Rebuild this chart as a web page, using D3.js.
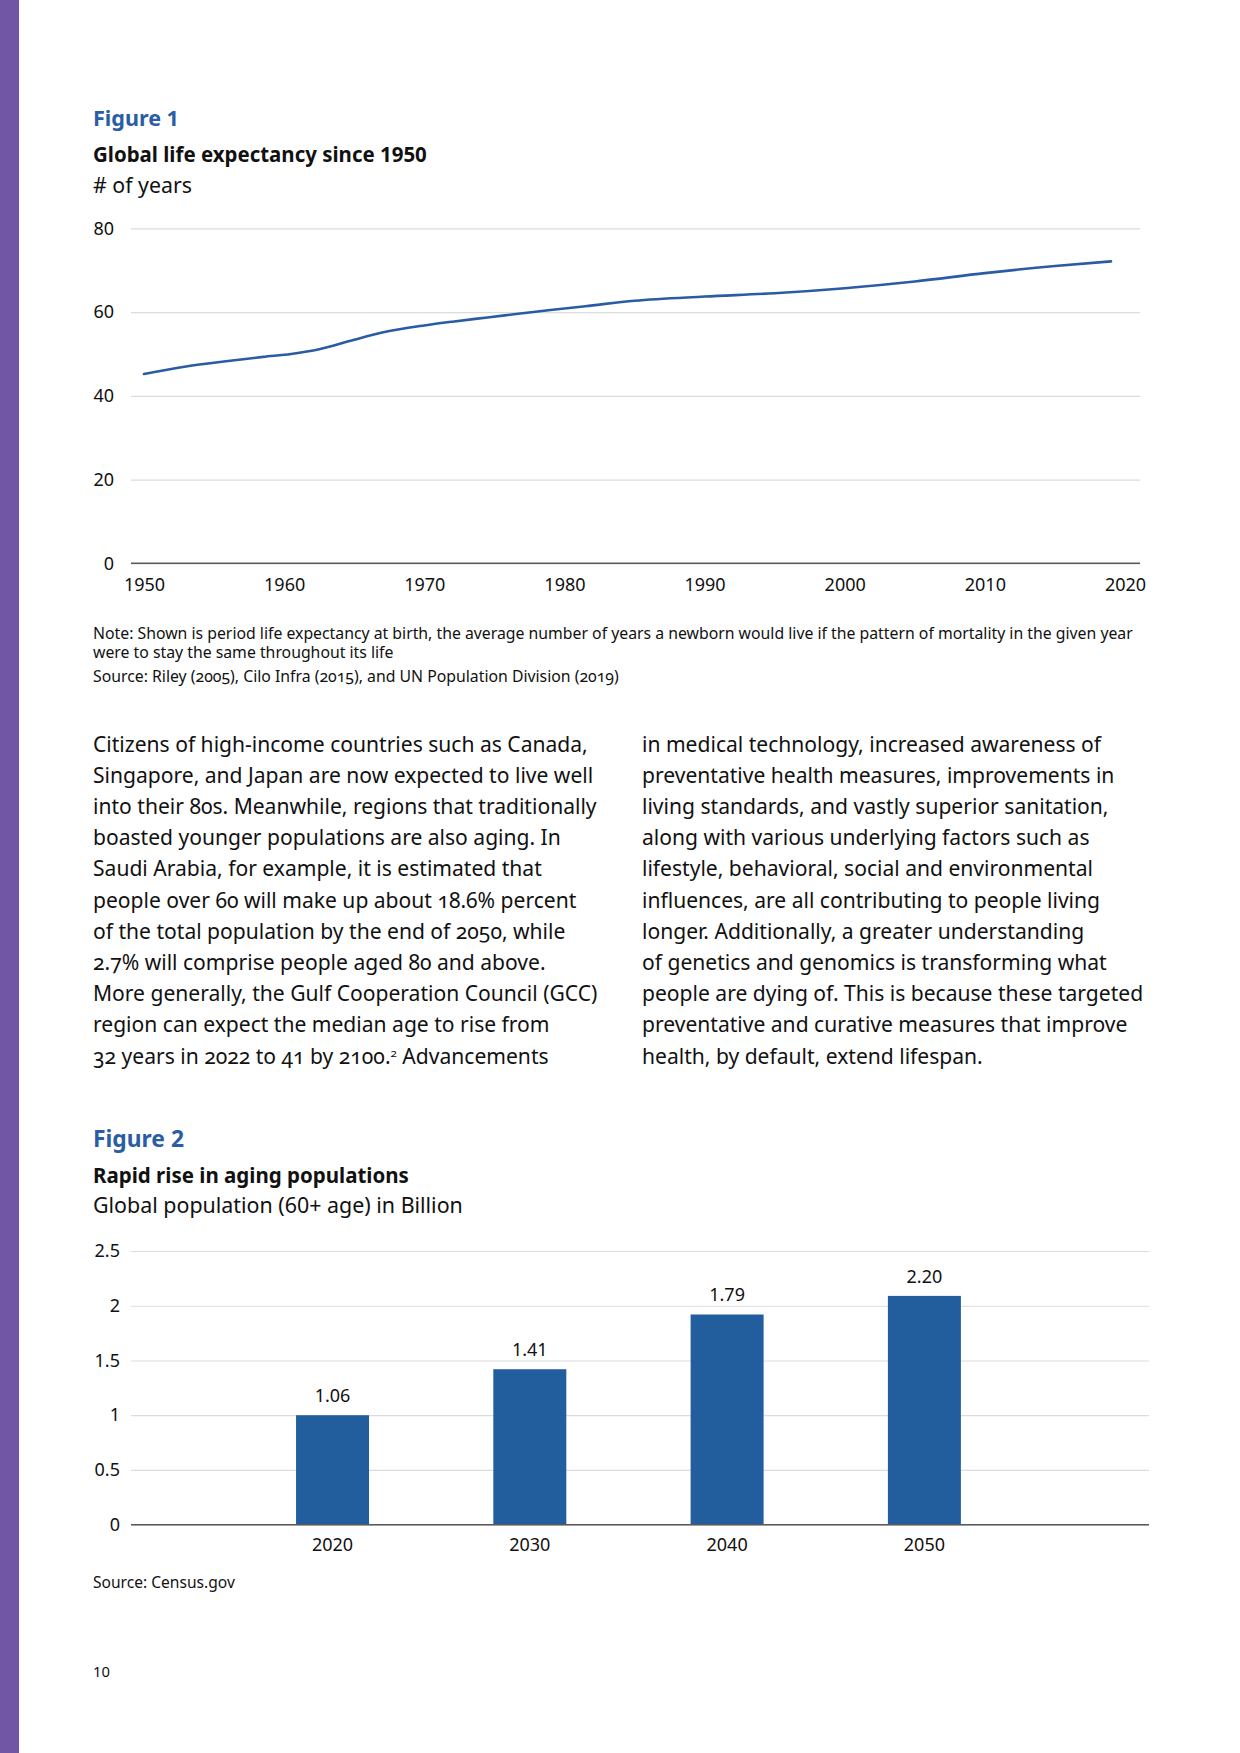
<!DOCTYPE html>
<html>
<head>
<meta charset="utf-8">
<script src="https://cdn.jsdelivr.net/npm/d3@7"></script>
<style>
  html, body { margin: 0; padding: 0; background: #fff; }
  svg { display: block; }
  text { font-family: "Noto Sans", "Open Sans", sans-serif; }
  .body { font-variant-numeric: oldstyle-nums; }
</style>
</head>
<body>
<svg id="page" width="1240" height="1753"></svg>
<script>
// ---------- Figure 1 data ----------
const lifeYears  = [1950, 1953, 1956, 1958.5, 1960.5, 1962.5, 1965, 1967, 1970, 1972, 1974.5, 1977, 1979, 1981.5, 1985, 1990, 1995, 2000, 2005, 2010, 2015, 2019];
const lifeValues = [45.2, 47.0, 48.3, 49.3, 50.0, 51.1, 53.4, 55.1, 56.8, 57.7, 58.7, 59.7, 60.5, 61.4, 62.7, 63.7, 64.5, 65.7, 67.3, 69.3, 71.0, 72.1];
const fig1YTicks = [0, 20, 40, 60, 80];
const fig1XTicks = [1950, 1960, 1970, 1980, 1990, 2000, 2010, 2020];

// ---------- Figure 2 data ----------
const popCategories = ["2020", "2030", "2040", "2050"];
const popBarValues  = [1.00, 1.42, 1.92, 2.09];
const popLabels     = ["1.06", "1.41", "1.79", "2.20"];
const fig2YTicks    = [0, 0.5, 1, 1.5, 2, 2.5];
const fig2YTickLabels = ["0", "0.5", "1", "1.5", "2", "2.5"];

// ---------- Text ----------
const bodyLeft = [
  "Citizens of high-income countries such as Canada,",
  "Singapore, and Japan are now expected to live well",
  "into their 80s. Meanwhile, regions that traditionally",
  "boasted younger populations are also aging. In",
  "Saudi Arabia, for example, it is estimated that",
  "people over 60 will make up about 18.6% percent",
  "of the total population by the end of 2050, while",
  "2.7% will comprise people aged 80 and above.",
  "More generally, the Gulf Cooperation Council (GCC)",
  "region can expect the median age to rise from",
  "32 years in 2022 to 41 by 2100.|2| Advancements"
];
const bodyRight = [
  "in medical technology, increased awareness of",
  "preventative health measures, improvements in",
  "living standards, and vastly superior sanitation,",
  "along with various underlying factors such as",
  "lifestyle, behavioral, social and environmental",
  "influences, are all contributing to people living",
  "longer. Additionally, a greater understanding",
  "of genetics and genomics is transforming what",
  "people are dying of. This is because these targeted",
  "preventative and curative measures that improve",
  "health, by default, extend lifespan."
];
const noteLines = [
  "Note: Shown is period life expectancy at birth, the average number of years a newborn would live if the pattern of mortality in the given year",
  "were to stay the same throughout its life"
];
const source1 = "Source: Riley (2005), Cilo Infra (2015), and UN Population Division (2019)";
const source2 = "Source: Census.gov";

const BLUE = "#2a5da6";
const BAR = "#225d9e";
const GRID = "#dcdcdc";
const AXIS = "#5a5a5a";
const TXT = "#111";

const svg = d3.select("#page");

svg.append("rect").attr("x", 0).attr("y", 0).attr("width", 19).attr("height", 1753).attr("fill", "#7256a6");

function fitWidth(sel, target) {
  const w = sel.node().getComputedTextLength();
  const fs = parseFloat(sel.attr("font-size"));
  const nfs = fs * target / w;
  sel.attr("font-size", nfs);
  return nfs;
}
function addText(x, y, str, size, weight, color, target) {
  const t = svg.append("text").attr("x", x).attr("y", y).attr("font-size", size)
    .attr("font-weight", weight).attr("fill", color).text(str);
  if (target) fitWidth(t, target);
  return t;
}

// ---------- Figure 1 headings ----------
addText(93, 126, "Figure 1", 22, 700, BLUE, 86);
addText(93, 162, "Global life expectancy since 1950", 20, 700, TXT, 334);
addText(93, 193, "# of years", 20, 400, TXT, 99);

// ---------- Figure 1 chart ----------
const x1 = d3.scaleLinear().domain([1950, 2020]).range([144, 1125]);
const y1 = d3.scaleLinear().domain([0, 80]).range([563.3, 228.3]);
const gx0 = 131, gx1 = 1140;

const g1 = svg.append("g");
const yAxis1 = d3.axisLeft(y1).tickValues(fig1YTicks).tickSize(-(gx1 - gx0)).tickPadding(17).tickFormat(d3.format("d"));
g1.append("g").attr("transform", `translate(${gx0},0)`).call(yAxis1)
  .call(g => g.select(".domain").remove())
  .call(g => g.selectAll(".tick line").attr("stroke", GRID).attr("stroke-width", 1.2))
  .call(g => g.selectAll(".tick text").attr("font-size", 18).attr("fill", TXT).attr("font-family", "Noto Sans"));
g1.append("line").attr("x1", gx0).attr("x2", gx1).attr("y1", y1(0)).attr("y2", y1(0)).attr("stroke", AXIS).attr("stroke-width", 1.5);

const xAxis1 = d3.axisBottom(x1).tickValues(fig1XTicks).tickSize(0).tickPadding(15).tickFormat(d3.format("d"));
g1.append("g").attr("transform", `translate(0,${y1(0)})`).call(xAxis1)
  .call(g => g.select(".domain").remove())
  .call(g => g.selectAll(".tick text").attr("font-size", 18).attr("fill", TXT).attr("font-family", "Noto Sans"));

const lineData = lifeYears.map((yr, i) => ({ yr, v: lifeValues[i] }));
g1.append("path").datum(lineData)
  .attr("fill", "none").attr("stroke", "#2a5ca4").attr("stroke-width", 2.6).attr("stroke-linecap", "round")
  .attr("d", d3.line().x(d => x1(d.yr)).y(d => y1(d.v)).curve(d3.curveMonotoneX));

// ---------- Notes ----------
const n1 = addText(93, 638.5, noteLines[0], 14, 400, TXT);
const noteSize = fitWidth(n1, 1040);
addText(93, 658.3, noteLines[1], noteSize, 400, TXT).attr("class", "body");
addText(93, 682, source1, noteSize, 400, TXT).attr("class", "body");
n1.attr("class", "body");

// ---------- Body text ----------
function bodyLine(x, y, str, size) {
  const t = svg.append("text").attr("x", x).attr("y", y).attr("font-size", size)
    .attr("fill", TXT).attr("class", "body");
  const parts = str.split("|");
  parts.forEach((p, i) => {
    const ts = t.append("tspan").text(p);
    if (i % 2 === 1) ts.attr("baseline-shift", "super").attr("font-size", size * 0.55);
  });
  return t;
}
const probe = bodyLine(93, 752, bodyLeft[2], 20);
const bodySize = 20 * 504 / probe.node().getComputedTextLength();
probe.remove();
const lineH = 31.2, bodyTop = 751.5;
bodyLeft.forEach((s, i) => bodyLine(93, bodyTop + i * lineH, s, bodySize));
bodyRight.forEach((s, i) => bodyLine(642, bodyTop + i * lineH, s, bodySize));

// ---------- Figure 2 headings ----------
addText(93, 1147, "Figure 2", 22, 700, BLUE, 91);
addText(93, 1183, "Rapid rise in aging populations", 20, 700, TXT, 316);
addText(93, 1213, "Global population (60+ age) in Billion", 20, 400, TXT, 370);

// ---------- Figure 2 chart ----------
const y2 = d3.scaleLinear().domain([0, 2.5]).range([1524.7, 1251]);
const x2 = d3.scaleBand().domain(popCategories).range([131, 1147])
  .paddingInner(0.63).paddingOuter(0.89).align(0.47);
const hx0 = 131, hx1 = 1149;

const g2 = svg.append("g");
const yAxis2 = d3.axisLeft(y2).tickValues(fig2YTicks).tickSize(-(hx1 - hx0)).tickPadding(11)
  .tickFormat((d, i) => fig2YTickLabels[i]);
g2.append("g").attr("transform", `translate(${hx0},0)`).call(yAxis2)
  .call(g => g.select(".domain").remove())
  .call(g => g.selectAll(".tick line").attr("stroke", GRID).attr("stroke-width", 1.2))
  .call(g => g.selectAll(".tick text").attr("font-size", 18).attr("fill", TXT).attr("font-family", "Noto Sans"));

g2.selectAll("rect.bar").data(popCategories).join("rect").attr("class", "bar")
  .attr("x", d => x2(d)).attr("width", x2.bandwidth())
  .attr("y", (d, i) => y2(popBarValues[i]))
  .attr("height", (d, i) => y2(0) - y2(popBarValues[i]))
  .attr("fill", BAR);

g2.selectAll("text.val").data(popCategories).join("text").attr("class", "val")
  .attr("x", d => x2(d) + x2.bandwidth() / 2)
  .attr("y", (d, i) => y2(popBarValues[i]) - 13)
  .attr("text-anchor", "middle").attr("font-size", 18).attr("fill", TXT)
  .text((d, i) => popLabels[i]);

g2.append("line").attr("x1", hx0).attr("x2", hx1).attr("y1", y2(0)).attr("y2", y2(0)).attr("stroke", AXIS).attr("stroke-width", 1.6);

const xAxis2 = d3.axisBottom(x2).tickSize(0).tickPadding(14);
g2.append("g").attr("transform", `translate(0,${y2(0)})`).call(xAxis2)
  .call(g => g.select(".domain").remove())
  .call(g => g.selectAll(".tick text").attr("font-size", 18).attr("fill", TXT).attr("font-family", "Noto Sans"));

addText(93, 1588, source2, 14, 400, TXT, 142);
addText(93, 1677, "10", 15, 400, TXT, 17);
</script>
</body>
</html>
